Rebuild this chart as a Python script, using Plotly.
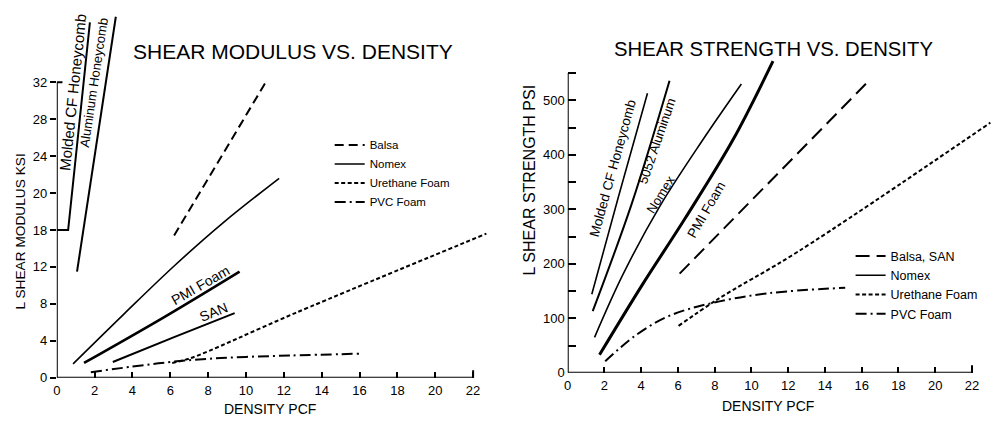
import plotly.graph_objects as go

# ---------------- data: left panel (shear modulus, ksi vs density, pcf) -------------
mod_molded_x = [0.0, 0.6, 1.75]
mod_molded_y = [16.0, 16.0, 38.5]
mod_alum_x = [1.07, 3.12]
mod_alum_y = [11.5, 39.1]
mod_balsa_x = [6.2, 11.1]
mod_balsa_y = [15.4, 32.2]
mod_nomex_x = [0.86, 3.6, 6.2, 8.8, 11.75]
mod_nomex_y = [1.5, 7.0, 12.1, 16.8, 21.6]
mod_pmi_x = [1.44, 5.7, 9.66]
mod_pmi_y = [1.6, 6.6, 11.5]
mod_san_x = [2.96, 6.2, 9.4]
mod_san_y = [1.7, 4.4, 7.0]
mod_ureth_x = [6.1, 7.05, 12.6, 22.7]
mod_ureth_y = [1.6, 2.1, 7.0, 15.6]
mod_pvc_x = [1.8, 4.0, 6.0, 8.0, 10.0, 12.3, 16.0]
mod_pvc_y = [0.6, 1.2, 1.7, 2.05, 2.25, 2.4, 2.6]

mod_tickvals = [0, 4, 8, 12, 16, 20, 24, 28, 32]
mod_ticktext = ["0", "4", "8", "12", "18", "20", "24", "28", "32"]
dens_tickvals = [0, 2, 4, 6, 8, 10, 12, 14, 16, 18, 20, 22]

# ---------------- data: right panel (shear strength, psi vs density, pcf) -----------
str_molded_x = [1.31, 2.76, 4.34]
str_molded_y = [144, 323, 513]
str_alum_x = [1.36, 3.49, 5.54]
str_alum_y = [113, 311, 536]
str_nomex_x = [1.46, 3.0, 5.0, 7.3, 9.45]
str_nomex_y = [65, 180, 305, 425, 530]
str_pmi_x = [1.73, 4.03, 6.4, 9.0, 11.17]
str_pmi_y = [33, 160, 284, 428, 572]
str_balsa_x = [6.09, 16.3]
str_balsa_y = [182, 533]
str_ureth_x = [6.03, 8.12, 12.56, 23.0]
str_ureth_y = [86, 134, 223, 459]
str_pvc_x = [2.04, 3.67, 5.49, 7.85, 10.94, 15.1]
str_pvc_y = [21, 68, 104, 128, 146, 156]

str_tickvals = list(range(0, 551, 50))
str_ticktext = [str(v) if v % 100 == 0 and v <= 500 else "" for v in str_tickvals]

FONT = "Liberation Sans, Arial, Helvetica, sans-serif"
K = "black"
W, H = 996, 421

DASH_BALSA_L = "9px,5px"
DASH_BALSA_R = "14px,7px"
DASH_URETH = "4px,2.5px"
DASH_PVC = "11px,4px,2px,4px"

fig = go.Figure()


def add(x, y, xa, ya, width, dash="solid", name=None, legend=None, shape="linear"):
    fig.add_trace(go.Scatter(
        x=x, y=y, xaxis=xa, yaxis=ya, mode="lines",
        line=dict(color=K, width=width, dash=dash, shape=shape),
        name=name or "", showlegend=name is not None,
        legend=legend or "legend", hoverinfo="skip"))


# left panel
add(mod_balsa_x, mod_balsa_y, "x", "y", 2, DASH_BALSA_L, "Balsa", "legend")
add(mod_nomex_x, mod_nomex_y, "x", "y", 1.6, "solid", "Nomex", "legend", "spline")
add(mod_ureth_x, mod_ureth_y, "x", "y", 2, DASH_URETH, "Urethane Foam", "legend", "spline")
add(mod_pvc_x, mod_pvc_y, "x", "y", 2, DASH_PVC, "PVC Foam", "legend", "spline")
add(mod_molded_x, mod_molded_y, "x", "y", 2)
add(mod_alum_x, mod_alum_y, "x", "y", 2)
add(mod_pmi_x, mod_pmi_y, "x", "y", 2.6, "solid", None, None, "spline")
add(mod_san_x, mod_san_y, "x", "y", 2, "solid", None, None, "spline")

# right panel
add(str_balsa_x, str_balsa_y, "x2", "y2", 2, DASH_BALSA_R, "Balsa, SAN", "legend2")
add(str_nomex_x, str_nomex_y, "x2", "y2", 1.6, "solid", "Nomex", "legend2", "spline")
add(str_ureth_x, str_ureth_y, "x2", "y2", 2, DASH_URETH, "Urethane Foam", "legend2", "spline")
add(str_pvc_x, str_pvc_y, "x2", "y2", 2, DASH_PVC, "PVC Foam", "legend2", "spline")
add(str_molded_x, str_molded_y, "x2", "y2", 1.6, "solid", None, None, "spline")
add(str_alum_x, str_alum_y, "x2", "y2", 2, "solid", None, None, "spline")
add(str_pmi_x, str_pmi_y, "x2", "y2", 3, "solid", None, None, "spline")

# axis geometry (pixels of the 996x421 page)
L_X0, L_PX = 53, 19.0
L_Y0, L_PY = 385, 9.41
R_X0, R_PX = 566, 18.45
R_Y0, R_PY = 380, 0.5554
L_XMAX, R_XMAX = 23.5, 23.2

tickfont = dict(family=FONT, size=13, color=K)
xcommon = dict(showgrid=False, zeroline=False, showline=False, ticks="inside",
               ticklen=6, tickwidth=1.5, tickcolor=K, tickfont=tickfont,
               tickvals=dens_tickvals, ticklabelstandoff=3, fixedrange=True)
ycommon = dict(showgrid=False, zeroline=False, showline=False,
               tickwidth=1.5, tickcolor=K, tickfont=tickfont, fixedrange=True)

fig.update_layout(
    width=W, height=H, margin=dict(l=0, r=0, t=0, b=0),
    paper_bgcolor="white", plot_bgcolor="white",
    font=dict(family=FONT, color=K),
    xaxis=dict(domain=[L_X0 / W, (L_X0 + L_XMAX * L_PX) / W], range=[0, L_XMAX],
               anchor="y", **xcommon),
    yaxis=dict(domain=[(H - L_Y0) / H, 1], range=[0, L_Y0 / L_PY], anchor="x",
               ticks="outside", ticklen=6,
               tickvals=mod_tickvals, ticktext=mod_ticktext, **ycommon),
    xaxis2=dict(domain=[R_X0 / W, min(1, (R_X0 + R_XMAX * R_PX) / W)], range=[0, R_XMAX],
                anchor="y2", **xcommon),
    yaxis2=dict(domain=[(H - R_Y0) / H, 1], range=[0, R_Y0 / R_PY], anchor="x2",
                ticks="inside", ticklen=8, ticklabelstandoff=2,
                tickvals=str_tickvals, ticktext=str_ticktext, **ycommon),
    legend=dict(x=327 / W, y=1 - 133 / H, xanchor="left", yanchor="top",
                bgcolor="rgba(0,0,0,0)", font=dict(family=FONT, size=11.5, color=K),
                itemwidth=30, tracegroupgap=0),
    legend2=dict(x=850 / W, y=1 - 246 / H, xanchor="left", yanchor="top",
                 bgcolor="rgba(0,0,0,0)", font=dict(family=FONT, size=12.5, color=K),
                 itemwidth=30, tracegroupgap=0),
)

# axis lines and bracket marks
shapes = [
    dict(type="line", xref="x", yref="y", x0=0, x1=22, y0=0, y1=0),
    dict(type="line", xref="x", yref="y", x0=0, x1=0, y0=0, y1=32),
    dict(type="line", xref="x", yref="y", x0=0, x1=0.3, y0=32, y1=32),
    dict(type="line", xref="x", yref="y", x0=22, x1=22, y0=0, y1=0.8),
    dict(type="line", xref="x2", yref="y2", x0=0, x1=22, y0=0, y1=0),
    dict(type="line", xref="x2", yref="y2", x0=0, x1=0, y0=0, y1=550),
    dict(type="line", xref="x2", yref="y2", x0=22, x1=22, y0=0, y1=14),
]
for s in shapes:
    s["line"] = dict(color=K, width=2)
fig.update_layout(shapes=shapes)

ann = []


def text(t, x, y, xref, yref, size, angle=0):
    ann.append(dict(text=t, x=x, y=y, xref=xref, yref=yref, showarrow=False,
                    textangle=angle, font=dict(family=FONT, size=size, color=K),
                    xanchor="center", yanchor="middle"))


# titles
text("SHEAR MODULUS VS. DENSITY", 290 / W, 1 - 52 / H, "paper", "paper", 21)
text("SHEAR STRENGTH VS. DENSITY", 773 / W, 1 - 50 / H, "paper", "paper", 20.3)
# axis titles
text("DENSITY PCF", 267 / W, 1 - 417 / H, "paper", "paper", 14)
text("DENSITY PCF", 767 / W, 1 - 414 / H, "paper", "paper", 14)
text("L SHEAR MODULUS KSI", 17 / W, 1 - 236 / H, "paper", "paper", 13.7, -90)
text("L SHEAR STRENGTH PSI", 528 / W, 1 - 183 / H, "paper", "paper", 16, -90)
# curve labels, left
text("Molded CF Honeycomb", 0.84, 30.9, "x", "y", 15, -84)
text("Aluminum Honeycomb", 1.95, 32.0, "x", "y", 13, -81.5)
text("PMI Foam", 7.6, 10.05, "x", "y", 14, -30)
text("SAN", 8.26, 7.17, "x", "y", 14, -22)
# curve labels, right
text("Molded CF Honeycomb", 2.45, 375, "x2", "y2", 13.5, -74.5)
text("5052 Aluminum", 4.87, 426, "x2", "y2", 13, -71)
text("Nomex", 5.06, 327, "x2", "y2", 13, -58)
text("PMI Foam", 7.55, 300, "x2", "y2", 13.5, -60)
fig.update_layout(annotations=ann)

fig.write_html("out.html")
